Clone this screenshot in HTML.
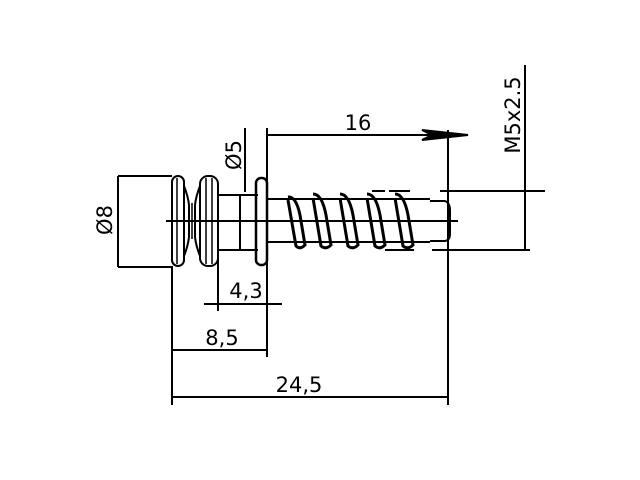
<!DOCTYPE html>
<html><head><style>body{margin:0;background:#fff}svg{display:block}</style></head><body>
<svg width="640" height="480" viewBox="0 0 640 480" xmlns="http://www.w3.org/2000/svg" font-family="DejaVu Sans, sans-serif" font-size="21" fill="none" stroke="#000" stroke-width="2">
<line x1="118" y1="176" x2="118" y2="267"/>
<line x1="118" y1="176" x2="172" y2="176"/>
<line x1="118" y1="267" x2="172" y2="267"/>
<line x1="245" y1="128" x2="245" y2="192"/>
<line x1="267" y1="128" x2="267" y2="357"/>
<line x1="267" y1="135" x2="468" y2="135"/>
<polygon points="468,135 422,130 432,135 422,140" fill="#000"/>
<line x1="448" y1="130" x2="448" y2="405"/>
<line x1="525" y1="65" x2="525" y2="250"/>
<line x1="440" y1="191" x2="545" y2="191"/>
<line x1="432" y1="250" x2="530" y2="250"/>
<line x1="218" y1="258" x2="218" y2="311"/>
<line x1="204" y1="304" x2="282" y2="304"/>
<line x1="172" y1="266" x2="172" y2="405"/>
<line x1="172" y1="350" x2="267" y2="350"/>
<line x1="172" y1="397" x2="448" y2="397"/>
<rect x="172" y="176" width="12" height="90" rx="6"/>
<line x1="177" y1="178" x2="177" y2="264" stroke-width="1.5"/>
<path d="M184,186 Q188,196 189,205 L189,237 Q188,246 184,256"/>
<path d="M200,186 Q196,196 195,205 L195,237 Q196,246 200,256"/>
<line x1="192" y1="203" x2="192" y2="239" stroke-width="1.5"/>
<rect x="200" y="176" width="18" height="90" rx="8"/>
<line x1="206" y1="178" x2="206" y2="264" stroke-width="1.5"/>
<line x1="212" y1="178" x2="212" y2="264" stroke-width="1.5"/>
<line x1="218" y1="195" x2="258" y2="195"/>
<line x1="218" y1="250" x2="258" y2="250"/>
<line x1="240" y1="195" x2="240" y2="250"/>
<rect x="256" y="178" width="11" height="87" rx="5" stroke-width="2.5"/>
<line x1="267" y1="199" x2="430" y2="199"/>
<line x1="267" y1="242" x2="430" y2="242"/>
<path d="M430,201 L445,201 Q450,203 450,210 L450,234 Q450,240 445,241 L430,241"/>
<line x1="166" y1="221" x2="458" y2="221"/>
<g stroke-width="3">
<path d="M288,197 Q296,196 300,215 L305,245 Q300,250 296,246 L288,200"/>
<path d="M313,194 Q322,194 326,215 L331,245 Q326,250 321,246 L313,198"/>
<path d="M340,194 Q349,194 353,215 L358,245 Q353,250 348,246 L340,198"/>
<path d="M367,194 Q376,194 380,215 L385,245 Q380,250 375,246 L367,198"/>
<path d="M395,194 Q404,194 408,215 L413,245 Q408,250 403,246 L395,198"/>
</g>
<line x1="372" y1="191" x2="385" y2="191"/>
<line x1="389" y1="191" x2="410" y2="191"/>
<line x1="385" y1="250" x2="414" y2="250"/>
<g fill="#000" stroke="none">
<text x="358" y="130" text-anchor="middle">16</text>
<text x="246" y="298" text-anchor="middle">4,3</text>
<text x="222" y="345" text-anchor="middle">8,5</text>
<text x="299" y="392" text-anchor="middle">24,5</text>
<text transform="translate(520,115) rotate(-90)" text-anchor="middle">M5x2.5</text>
<text transform="translate(241,155) rotate(-90)" text-anchor="middle">Ø5</text>
<text transform="translate(112,220) rotate(-90)" text-anchor="middle">Ø8</text>
</g>
</svg>
</body></html>
